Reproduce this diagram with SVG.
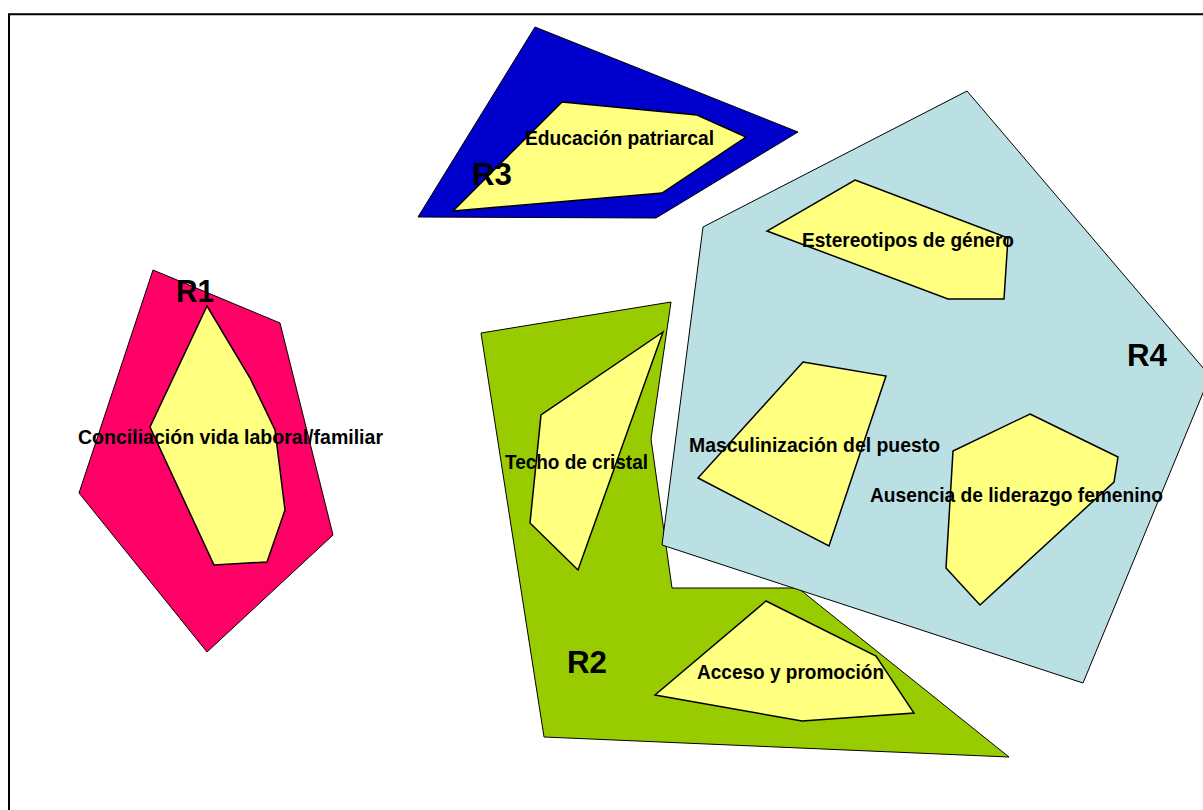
<svg xmlns="http://www.w3.org/2000/svg" width="1203" height="810" viewBox="0 0 1203 810">
<style>
.outer{stroke:#000;stroke-width:1;stroke-linejoin:miter}
.inner{fill:#FFFF80;stroke:#000;stroke-width:1.5;stroke-linejoin:miter}
.lbl{font-family:"Liberation Sans",Arial,sans-serif;font-weight:bold;font-size:21px;fill:#000}
.rl{font-family:"Liberation Sans",Arial,sans-serif;font-weight:bold;font-size:31px;fill:#000}
</style>
<rect x="0" y="0" width="1203" height="810" fill="#fff"/>
<path d="M9,810 V14.3 H1203" fill="none" stroke="#000" stroke-width="2"/>
<g id="connectors"></g>
<g id="R3">
<polygon class="outer" fill="#0000CC" points="418,217 535,27 798,132 656,218"/>
<g id="educacion">
<polygon class="inner" points="562,102 697,115 746,137 662,193 453,211"/>
<text class="lbl" x="525" y="145" textLength="189" lengthAdjust="spacingAndGlyphs">Educación patriarcal</text>
</g>
<text class="rl" x="472" y="185" textLength="40" lengthAdjust="spacingAndGlyphs">R3</text>
</g>
<g id="R1">
<polygon class="outer" fill="#FF0066" points="153,270 280,323 333,535 207,652 79,493"/>
<g id="conciliacion">
<polygon class="inner" points="207,306 250,378 275,430 285,510 267,562 214,565 150,427"/>
<text class="lbl" x="78" y="444" textLength="305" lengthAdjust="spacingAndGlyphs">Conciliación vida laboral/familiar</text>
</g>
<text class="rl" x="176" y="302" textLength="38" lengthAdjust="spacingAndGlyphs">R1</text>
</g>
<g id="R2">
<polygon class="outer" fill="#99CC00" points="481,333 671,302 651,439 672,588 798,588 1009,757 544,737"/>
<g id="techo">
<polygon class="inner" points="663,332 541,415 530,523 578,570"/>
<text class="lbl" x="505" y="469" textLength="143" lengthAdjust="spacingAndGlyphs">Techo de cristal</text>
</g>
<g id="acceso">
<polygon class="inner" points="766,601 876,656 914,713 802,721 655,695"/>
<text class="lbl" x="697" y="679" textLength="187" lengthAdjust="spacingAndGlyphs">Acceso y promoción</text>
</g>
<text class="rl" x="567" y="673" textLength="40" lengthAdjust="spacingAndGlyphs">R2</text>
</g>
<g id="R4">
<polygon class="outer" fill="#BBE0E3" points="967,91 1210,376 1083,683 662,545 703,227"/>
<g id="estereotipos">
<polygon class="inner" points="855,180 1008,238 1004,299 948,299 767,231"/>
<text class="lbl" x="802" y="247" textLength="212" lengthAdjust="spacingAndGlyphs">Estereotipos de género</text>
</g>
<g id="masculinizacion">
<polygon class="inner" points="803,362 886,376 829,546 698,478"/>
<text class="lbl" x="689" y="452" textLength="251" lengthAdjust="spacingAndGlyphs">Masculinización del puesto</text>
</g>
<g id="ausencia">
<polygon class="inner" points="1030,414 1118,457 1114,482 980,605 946,568 953,451"/>
<text class="lbl" x="870" y="502" textLength="293" lengthAdjust="spacingAndGlyphs">Ausencia de liderazgo femenino</text>
</g>
<text class="rl" x="1127" y="366" textLength="40" lengthAdjust="spacingAndGlyphs">R4</text>
</g>
</svg>
